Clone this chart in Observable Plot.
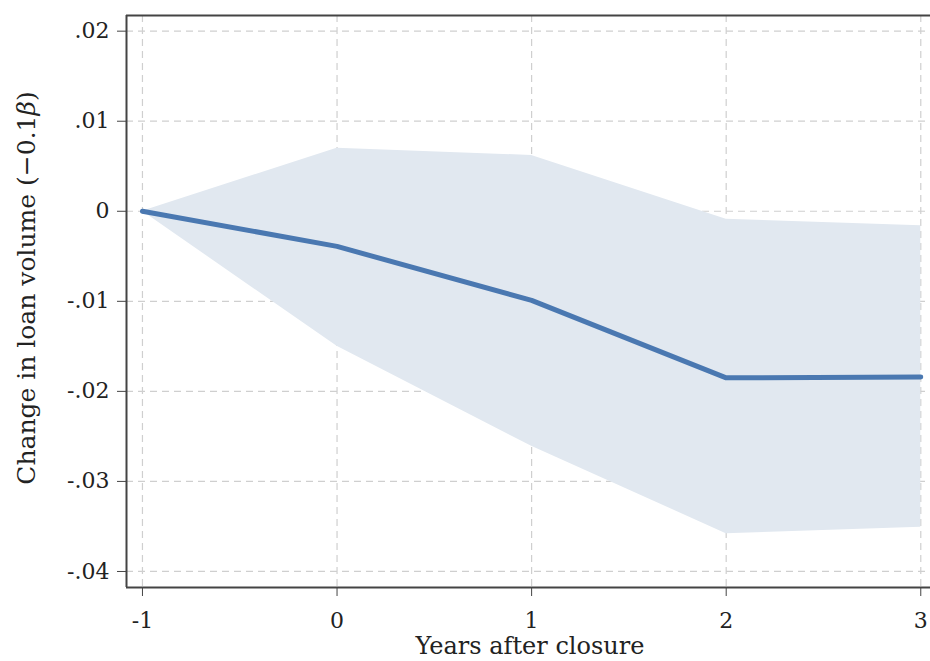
<!DOCTYPE html>
<html>
<head>
<meta charset="utf-8">
<script src="https://cdn.jsdelivr.net/npm/d3@7"></script>
<script src="https://cdn.jsdelivr.net/npm/@observablehq/plot@0.6"></script>
<style>
  html, body { margin: 0; padding: 0; background: #fff; }
  #chart { width: 930px; height: 661px; }
</style>
</head>
<body>
<div id="chart"></div>
<script>
const years = [-1, 0, 1, 2, 3];
const estimate = [0, -0.0039, -0.0099, -0.0185, -0.0184];
const upper = [0, 0.0070, 0.0062, -0.0009, -0.0016];
const lower = [0, -0.0150, -0.0261, -0.0358, -0.0351];

const xTicks = [-1, 0, 1, 2, 3];
const xTickLabels = ["-1", "0", "1", "2", "3"];
const yTicks = [0.02, 0.01, 0, -0.01, -0.02, -0.03, -0.04];
const yTickLabels = [".02", ".01", "0", "-.01", "-.02", "-.03", "-.04"];

const xLabel = "Years after closure";
const yLabelMain = "Change in loan volume (−0.1";
const yLabelGreek = "β";
const yLabelEnd = ")";

const xDomain = [-1.082, 3.05];
const yDomain = [-0.04178, 0.02174];

const rows = years.map((t, i) => ({t, est: estimate[i], hi: upper[i], lo: lower[i]}));

const font = "'DejaVu Serif', 'Liberation Serif', serif";

const plot = Plot.plot({
  width: 930,
  height: 661,
  marginLeft: 126,
  marginRight: 0,
  marginTop: 15,
  marginBottom: 74,
  style: {fontFamily: font, fontSize: "22px", color: "#222", background: "#fff"},
  x: {domain: xDomain},
  y: {domain: yDomain},
  marks: [
    Plot.gridX(xTicks, {stroke: "#cfcfcf", strokeOpacity: 1, strokeDasharray: "7,5", strokeWidth: 1.2}),
    Plot.gridY(yTicks, {stroke: "#cfcfcf", strokeOpacity: 1, strokeDasharray: "7,5", strokeWidth: 1.2}),
    Plot.areaY(rows, {x: "t", y1: "lo", y2: "hi", fill: "#e1e8f0", fillOpacity: 1}),
    Plot.lineY(rows, {x: "t", y: "est", stroke: "#4a78b1", strokeWidth: 5, strokeLinejoin: "round", strokeLinecap: "round"}),
    Plot.ruleX([xDomain[0]], {stroke: "#444", strokeWidth: 2}),
    Plot.ruleY([yDomain[0]], {stroke: "#444", strokeWidth: 2}),
    Plot.ruleY([yDomain[1]], {stroke: "#444", strokeWidth: 2}),
    Plot.axisX({ticks: xTicks, tickFormat: (d) => xTickLabels[xTicks.indexOf(d)], tickSize: 9, tickPadding: 16, stroke: "#444", label: null, fontSize: 22}),
    Plot.axisY({ticks: yTicks, tickFormat: (d) => yTickLabels[yTicks.indexOf(d)], tickSize: 9, tickPadding: 8, stroke: "#444", label: null, fontSize: 22})
  ]
});

document.getElementById("chart").appendChild(plot);

const svg = d3.select(plot);
svg.append("text")
  .attr("x", 530).attr("y", 654)
  .attr("text-anchor", "middle")
  .attr("font-family", font)
  .attr("font-size", 24)
  .attr("fill", "#222")
  .text(xLabel);

const yl = svg.append("text")
  .attr("transform", "translate(35,288) rotate(-90)")
  .attr("text-anchor", "middle")
  .attr("font-family", font)
  .attr("font-size", 25)
  .attr("fill", "#222");
yl.append("tspan").text(yLabelMain);
yl.append("tspan").attr("font-style", "italic").text(yLabelGreek);
yl.append("tspan").text(yLabelEnd);
</script>
</body>
</html>
